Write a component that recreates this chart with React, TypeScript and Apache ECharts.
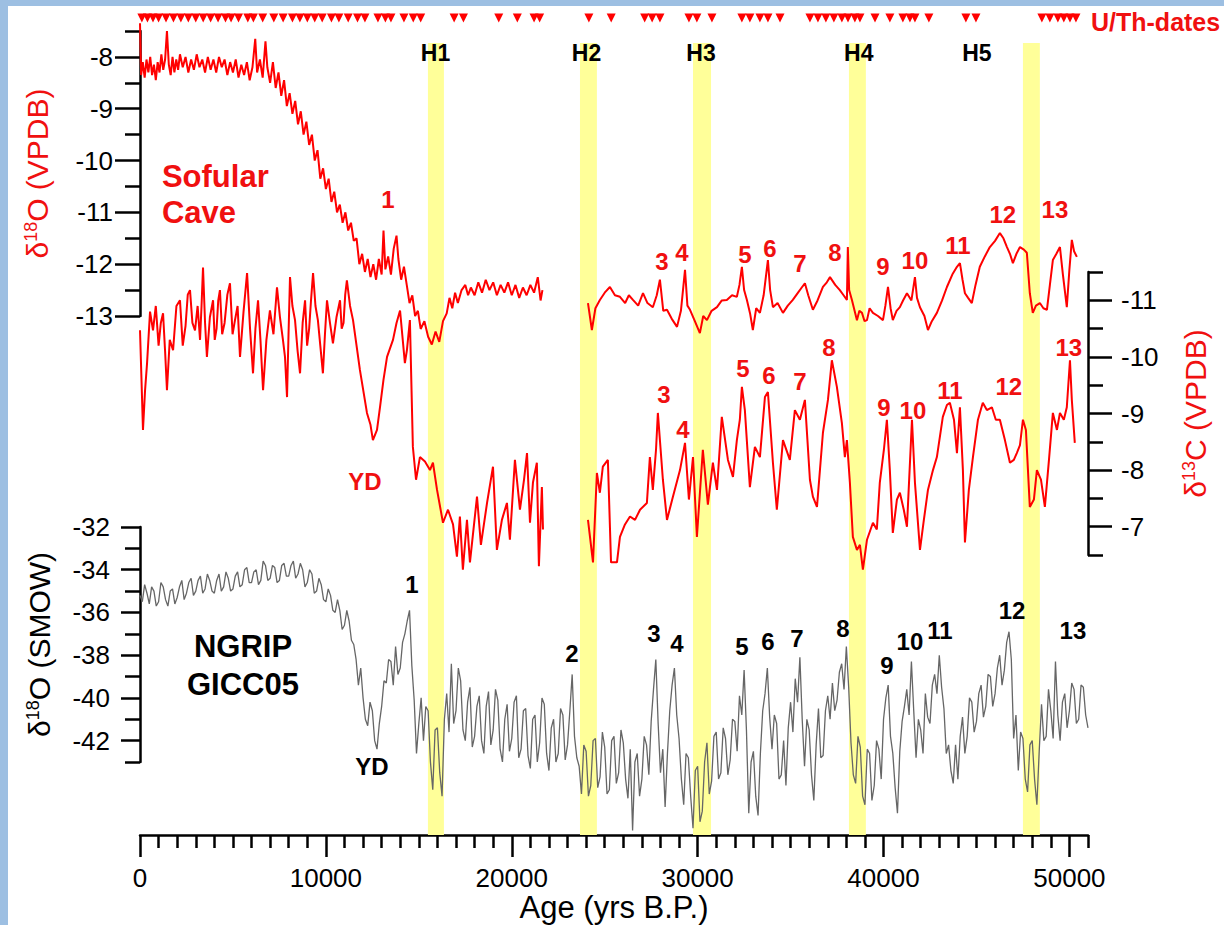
import React, { useEffect, useRef } from 'react';
import * as echarts from 'echarts';

const FONT = '"Liberation Sans", Arial, Helvetica, sans-serif';
const RED = '#ff0000';
const TXT_RED = '#f01010';
const GREY = '#666666';
const BLUE = '#9dbfe2';
const BAND = '#ffff99';

// ---------- axes / ticks ----------
const ageMin = 0;
const ageMax = 51000;
const ageMajorTicks = [0, 10000, 20000, 30000, 40000, 50000];
const ageMinorTicks = Array.from({ length: 51 }, (_, i) => (i + 1) * 1000).filter((v) => v % 10000 !== 0);

const o18Min = -13;
const o18Max = -7.5;
const o18MajorTicks = [-13, -12, -11, -10, -9, -8];
const o18MinorTicks = [-12.5, -11.5, -10.5, -9.5, -8.5, -7.5];

const c13Min = -11.5;
const c13Max = -6.5;
const c13MajorTicks = [-11, -10, -9, -8, -7];
const c13MinorTicks = [-11.5, -10.5, -9.5, -8.5, -7.5, -6.5];

const ngMin = -43;
const ngMax = -32;
const ngMajorTicks = [-42, -40, -38, -36, -34, -32];
const ngMinorTicks = [-43, -41, -39, -37, -35, -33];

// ---------- Heinrich bands & labels ----------
const heinrichBands: [number, number][] = [
  [15490, 16350], [23670, 24580], [29750, 30720], [38140, 39050], [47500, 48410],
];
const heinrichLabels: [string, number][] = [
  ['H1', 15900], ['H2', 24020], ['H3', 30180], ['H4', 38670], ['H5', 45020],
];

// ---------- U/Th dates (yrs B.P.) ----------
const uthDates = [
  100, 400, 700, 1000, 1400, 1800, 2200, 2600, 3000, 3400, 3800, 4200, 4600, 4900,
  5300, 5800, 6100, 6600, 7200, 7700, 8200, 8600,
  9000, 9400, 9800, 10300, 10700, 11200, 11700, 12100,
  12800, 13200, 13500, 14200, 14700, 15100, 16900, 17400,
  19300, 20300, 21200, 21500, 24150, 25350, 27150, 27550, 27970,
  29530, 29960, 30770, 32380, 32810, 33350, 33780, 34430,
  36040, 36470, 36900, 37330, 37760, 38090, 38460, 38730,
  39540, 40340, 41040, 41420, 41690, 42440, 44430, 44970,
  48520, 48950, 49380, 49700, 50030, 50350,
];

// ---------- Sofular δ18O (VPDB) ----------
const sofularO18: [number, number | null][] = [
  [0, -7.35], [60, -8.35], [150, -8.1], [250, -8.4], [350, -8.05], [450, -8.3], [550, -8.0], [650, -8.35],
  [750, -8.15], [850, -8.45], [950, -8.1], [1050, -8.3], [1150, -7.95], [1250, -8.25], [1350, -8.05], [1450, -7.5],
  [1550, -8.15], [1650, -8.35], [1750, -8.0], [1850, -8.3], [1950, -8.05], [2050, -8.25], [2150, -7.95], [2300, -8.2],
  [2450, -8.0], [2600, -8.3], [2750, -8.05], [2900, -8.25], [3050, -7.95], [3200, -8.2], [3350, -8.05], [3500, -8.3],
  [3650, -8.0], [3800, -8.25], [3950, -8.05], [4100, -8.3], [4250, -8.0], [4400, -8.2], [4550, -8.05], [4700, -8.35],
  [4850, -8.1], [5000, -8.3], [5150, -8.05], [5300, -8.4], [5450, -8.15], [5600, -8.35], [5750, -8.1], [5900, -8.45],
  [6050, -8.2], [6200, -7.65], [6300, -8.3], [6450, -8.05], [6600, -8.4], [6750, -7.7], [6850, -8.2], [7000, -8.5],
  [7150, -8.1], [7300, -8.6], [7450, -8.3], [7600, -8.75], [7750, -8.45], [7900, -8.95], [8050, -8.7], [8200, -9.1],
  [8350, -8.85], [8500, -9.3], [8650, -9.05], [8800, -9.5], [8950, -9.25], [9100, -9.7], [9250, -9.5], [9400, -10.0],
  [9550, -9.8], [9700, -10.35], [9850, -10.15], [10000, -10.55], [10150, -10.35], [10300, -10.8], [10450, -10.6], [10600, -11.0],
  [10750, -10.85], [10900, -11.2], [11050, -11.0], [11200, -11.35], [11350, -11.2], [11500, -11.55], [11650, -11.5], [11800, -12.0],
  [11950, -11.8], [12100, -12.15], [12250, -11.9], [12400, -12.25], [12550, -12.0], [12700, -12.3], [12850, -11.9], [13000, -12.2],
  [13100, -11.35], [13200, -12.1], [13350, -11.85], [13500, -12.2], [13650, -11.7], [13800, -11.45], [13900, -11.9], [14050, -12.3],
  [14200, -12.05], [14350, -12.4], [14500, -12.75], [14650, -12.6], [14800, -13.0], [14950, -12.9], [15100, -13.25], [15300, -13.1],
  [15500, -13.4], [15700, -13.55], [15900, -13.3], [16100, -13.5], [16300, -13.1], [16500, -12.95], [16650, -12.65], [16800, -12.85],
  [16950, -12.55], [17100, -12.75], [17300, -12.5], [17500, -12.4], [17650, -12.6], [17800, -12.45], [18000, -12.6], [18200, -12.35],
  [18400, -12.55], [18600, -12.3], [18800, -12.5], [19000, -12.35], [19200, -12.6], [19400, -12.4], [19600, -12.55], [19800, -12.35],
  [20000, -12.6], [20200, -12.4], [20400, -12.65], [20600, -12.45], [20800, -12.6], [21000, -12.4], [21200, -12.55], [21400, -12.25],
  [21550, -12.7], [21650, -12.5], [22500, null],
  [24100, -12.75], [24310, -13.27], [24500, -12.85], [24740, -12.69], [25000, -12.55], [25280, -12.44], [25550, -12.6], [25820, -12.63],
  [26100, -12.75], [26300, -12.6], [26520, -12.69], [26800, -12.8], [27060, -12.56], [27300, -12.75], [27590, -12.83], [27800, -12.6],
  [27970, -12.3], [28150, -12.9], [28350, -12.88], [28600, -13.05], [28890, -13.21], [29100, -12.9], [29320, -12.11], [29450, -12.8],
  [29590, -12.88], [29850, -13.1], [30120, -13.33], [30300, -13.0], [30500, -13.08], [30750, -12.9], [31040, -12.83], [31300, -12.7],
  [31570, -12.69], [31850, -12.6], [32110, -12.63], [32250, -12.4], [32380, -12.05], [32500, -12.5], [32650, -12.69], [32820, -12.95],
  [32970, -13.27], [33150, -12.85], [33350, -12.94], [33550, -12.6], [33780, -11.92], [33900, -12.5], [34050, -12.83], [34300, -12.75],
  [34590, -12.94], [34850, -12.8], [35120, -12.69], [35400, -12.55], [35600, -12.45], [35770, -12.37], [35950, -12.6], [36200, -12.88],
  [36450, -12.7], [36740, -12.44], [36950, -12.35], [37120, -12.25], [37400, -12.4], [37650, -12.5], [37850, -12.6], [38030, -12.69],
  [38080, -11.67], [38150, -12.5], [38300, -12.69], [38570, -13.08], [38700, -12.9], [38840, -12.94], [38980, -13.1], [39110, -13.08],
  [39250, -12.85], [39430, -12.94], [39700, -13.0], [39970, -13.08], [40100, -12.8], [40240, -12.44], [40380, -12.85], [40500, -13.08],
  [40700, -12.9], [40880, -12.83], [41050, -12.7], [41260, -12.56], [41500, -12.7], [41690, -12.25], [41800, -12.65], [41960, -12.83],
  [42200, -13.0], [42390, -13.27], [42600, -13.1], [42870, -12.94], [43150, -12.7], [43410, -12.44], [43700, -12.2], [43950, -12.05],
  [44110, -11.98], [44250, -12.3], [44380, -12.56], [44550, -12.65], [44750, -12.75], [44950, -12.4], [45180, -12.05], [45450, -11.85],
  [45720, -11.67], [46000, -11.55], [46260, -11.4], [46450, -11.5], [46640, -11.67], [46800, -11.8], [46960, -11.98], [47150, -11.8],
  [47340, -11.67], [47550, -11.72], [47710, -11.78], [47870, -12.56], [48030, -12.94], [48200, -12.8], [48410, -12.75], [48600, -12.85],
  [48790, -12.88], [48950, -12.4], [49110, -11.92], [49300, -11.8], [49490, -11.67], [49650, -12.2], [49860, -12.83], [50000, -12.1],
  [50130, -11.53], [50250, -11.75], [50400, -11.86],
];

// ---------- Sofular δ13C (VPDB) ----------
const sofularC13: [number, number | null][] = [
  [0, -10.47], [80, -9.6], [160, -8.71], [270, -9.4], [380, -9.89], [540, -10.8], [700, -10.47], [850, -10.9],
  [1000, -10.2], [1120, -10.6], [1240, -10.77], [1350, -10.1], [1450, -9.41], [1600, -10.3], [1780, -10.12], [1960, -10.9],
  [2150, -11.0], [2300, -10.2], [2450, -10.55], [2570, -11.1], [2690, -11.18], [2820, -10.6], [2960, -10.47], [3100, -10.9],
  [3230, -10.3], [3310, -10.9], [3390, -11.58], [3500, -10.6], [3600, -10.0], [3760, -10.7], [3930, -11.0], [4020, -10.3],
  [4120, -10.5], [4210, -11.0], [4300, -11.18], [4420, -10.4], [4550, -10.6], [4700, -11.1], [4840, -11.3], [4980, -10.4],
  [5110, -10.65], [5250, -10.9], [5380, -10.0], [5570, -10.8], [5760, -11.48], [5920, -10.5], [6080, -9.71], [6210, -10.5],
  [6350, -11.0], [6480, -10.3], [6620, -9.41], [6800, -10.3], [6990, -10.82], [7180, -10.4], [7370, -11.23], [7530, -10.7],
  [7690, -10.3], [7800, -10.0], [7910, -9.29], [7990, -10.4], [8070, -11.41], [8200, -10.9], [8340, -10.65], [8480, -10.1],
  [8610, -9.71], [8750, -10.6], [8880, -11.0], [8990, -10.2], [9100, -10.5], [9200, -11.0], [9310, -11.48], [9440, -10.9],
  [9570, -10.65], [9700, -10.2], [9840, -9.71], [9950, -10.4], [10060, -11.0], [10220, -10.6], [10380, -10.24], [10570, -10.7],
  [10760, -11.0], [10850, -10.5], [10950, -10.6], [11040, -11.1], [11130, -11.35], [11300, -10.9], [11460, -10.65], [11650, -10.2],
  [11830, -9.77], [12210, -9.01], [12400, -8.8], [12530, -8.53],
  [12750, -8.71], [12910, -9.11], [13100, -9.6], [13290, -10.0], [13610, -10.3], [13800, -10.6], [13990, -10.82], [14250, -9.89],
  [14360, -10.12], [14520, -10.65], [14680, -8.41], [14850, -7.83], [15060, -8.23], [15330, -8.15], [15600, -8.0], [15760, -8.13],
  [15980, -7.65], [16300, -7.07], [16570, -7.3], [16840, -7.04], [17050, -6.47], [17210, -7.18], [17370, -6.24], [17590, -7.12],
  [17750, -6.37], [18130, -7.53], [18340, -6.68], [18670, -7.42], [18990, -8.06], [19200, -6.59], [19470, -7.12], [19740, -7.42],
  [19900, -6.77], [20170, -8.18], [20440, -7.3], [20660, -7.83], [20820, -8.3], [20980, -7.07], [21140, -7.78], [21350, -8.13],
  [21460, -6.3], [21620, -7.7], [21680, -6.95], [22500, null],
  [24100, -7.12], [24370, -6.37], [24580, -7.95], [24740, -7.6], [24900, -8.06], [25170, -8.18], [25340, -6.37], [25660, -6.37],
  [25820, -6.82], [26090, -7.04], [26360, -7.18], [26630, -7.12], [26900, -7.3], [27270, -7.42], [27430, -8.23], [27590, -7.65],
  [27760, -8.36], [27860, -9.01], [28130, -7.83], [28350, -7.12], [28670, -7.53], [29050, -8.0], [29320, -8.48], [29530, -7.48],
  [29750, -8.23], [29960, -6.82], [30280, -8.36], [30550, -7.39], [30820, -8.13], [31040, -7.65], [31300, -8.94], [31630, -8.18],
  [31900, -7.88], [32110, -8.53], [32270, -8.89], [32380, -9.47], [32540, -9.06], [32810, -7.7], [33080, -8.41], [33350, -8.23],
  [33620, -9.29], [33780, -9.38], [34050, -8.13], [34260, -7.3], [34590, -8.53], [34960, -8.18], [35230, -9.06], [35500, -8.89],
  [35770, -9.24], [36040, -7.83], [36200, -7.53], [36420, -7.35], [36740, -8.66], [37010, -9.24], [37220, -9.94], [37490, -9.47],
  [37760, -8.83], [37920, -8.23], [38030, -8.53], [38190, -7.78], [38350, -6.82], [38570, -6.59], [38730, -6.68], [38890, -6.24],
  [39110, -6.77], [39430, -7.07], [39640, -6.95], [39800, -7.78], [40020, -8.36], [40180, -8.89], [40340, -8.0], [40500, -6.89],
  [40720, -7.48], [40880, -7.6], [41090, -7.3], [41260, -7.0], [41530, -8.89], [41690, -7.78], [41960, -6.59], [42170, -7.12],
  [42390, -7.65], [42660, -8.0], [42870, -8.23], [43190, -8.94], [43410, -9.15], [43570, -9.19], [43790, -8.89], [43950, -8.3],
  [44110, -9.11], [44270, -8.0], [44380, -6.72], [44590, -7.65], [44810, -8.23], [45080, -8.89], [45340, -9.19], [45560, -9.06],
  [45830, -9.11], [46040, -8.89], [46260, -8.89], [46530, -8.53], [46800, -8.13], [47010, -8.18], [47170, -8.3], [47340, -8.44],
  [47500, -8.89], [47660, -8.71], [47870, -7.35], [48090, -7.48], [48250, -8.0], [48470, -7.83], [48680, -7.35], [48900, -8.18],
  [49110, -9.01], [49330, -8.71], [49490, -9.01], [49700, -8.89], [49860, -9.11], [50030, -9.94], [50130, -9.24], [50290, -8.48],
];

// ---------- NGRIP δ18O (SMOW), GICC05, one value every 125 yr from 0 ----------
const ngripStep = 125;
const ngripValues = [
  -35.2, -35.5, -34.7, -35.1, -35.6, -34.8, -35.0, -35.7, -35.5, -34.6, -34.8, -35.4, -35.7, -35.0, -34.9, -35.6,
  -35.3, -34.8, -34.5, -35.4, -35.1, -34.6, -34.4, -35.2, -35.0, -34.5, -34.3, -35.1, -34.9, -34.2, -34.5, -35.0,
  -35.1, -34.5, -34.2, -35.0, -34.8, -34.1, -34.4, -35.0, -34.9, -34.3, -34.1, -34.8, -34.7, -34.0, -33.9, -34.6,
  -34.6, -34.1, -34.0, -34.7, -34.5, -33.6, -33.8, -34.5, -34.4, -33.8, -33.9, -34.6, -34.5, -33.8, -33.7, -34.3,
  -34.3, -33.8, -33.6, -34.4, -34.2, -33.7, -34.0, -34.8, -34.6, -34.0, -34.2, -35.1, -35.0, -34.4, -34.7, -35.4,
  -35.5, -34.9, -35.2, -35.9, -36.0, -35.4, -35.9, -36.8, -36.6, -35.9, -36.4, -37.3, -37.5, -38.2, -39.4, -38.6,
  -40.0, -41.0, -41.3, -40.2, -40.6, -42.0, -42.4, -41.2, -40.4, -39.2, -39.3, -38.2, -38.3, -39.4, -37.6, -38.9,
  -38.6, -37.4, -37.0, -36.4, -35.9, -38.5, -40.1, -42.6, -41.2, -40.0, -42.0, -40.4, -40.6, -43.0, -44.3, -41.5,
  -41.4, -43.5, -44.6, -41.0, -39.8, -41.6, -38.4, -41.2, -40.6, -38.6, -39.2, -41.5, -42.0, -40.2, -39.5, -42.3,
  -41.8, -40.4, -39.9, -42.0, -42.6, -40.4, -39.7, -42.2, -41.5, -39.6, -40.1, -42.4, -43.0, -41.0, -40.3, -42.5,
  -41.9, -40.2, -39.9, -42.8, -42.4, -40.6, -40.5, -42.7, -43.3, -41.0, -40.8, -43.0, -42.1, -40.0, -40.3, -42.6,
  -43.4, -41.4, -41.0, -43.0, -42.6, -40.5, -40.8, -42.9, -42.2, -40.6, -38.9, -41.8, -42.8, -43.2, -44.5, -42.2,
  -42.5, -44.6, -44.1, -42.0, -41.9, -44.2, -43.7, -41.6, -42.3, -44.5, -44.3, -42.0, -41.8, -44.0, -43.5, -41.5,
  -42.1, -43.8, -44.7, -42.4, -46.2, -43.0, -42.6, -44.6, -43.8, -41.8, -42.2, -43.6, -41.1, -39.6, -38.2, -41.2,
  -43.5, -42.4, -45.1, -42.6, -40.6, -39.4, -38.6, -40.8, -41.9, -43.8, -45.0, -42.6, -42.8, -44.6, -46.1, -43.4,
  -43.2, -45.8, -45.3, -43.0, -42.1, -44.5, -43.9, -41.8, -41.6, -43.8, -43.5, -41.4, -41.9, -43.6, -42.9, -41.0,
  -41.1, -42.5, -39.9, -40.8, -38.7, -41.5, -45.4, -43.0, -42.5, -44.6, -45.5, -42.6, -40.6, -39.8, -38.6, -40.9,
  -42.4, -40.8, -41.2, -43.8, -43.6, -42.0, -44.1, -41.4, -40.2, -41.6, -39.1, -40.2, -38.1, -41.0, -43.2, -41.0,
  -41.5, -43.6, -44.8, -42.2, -40.5, -42.8, -42.7, -40.6, -39.9, -41.0, -39.3, -40.6, -40.1, -38.8, -38.4, -39.6,
  -37.6, -39.5, -42.1, -43.6, -44.0, -41.8, -42.3, -44.6, -45.0, -42.4, -42.6, -44.8, -44.1, -42.0, -42.4, -43.8,
  -41.0, -40.0, -39.4, -41.8, -42.6, -44.2, -45.4, -42.5, -41.1, -40.4, -39.6, -40.8, -38.3, -40.6, -42.8, -41.0,
  -41.5, -42.6, -39.8, -40.9, -41.2, -39.4, -38.9, -39.8, -38.0, -39.5, -40.5, -42.6, -42.2, -43.4, -44.0, -42.2,
  -43.8, -41.8, -40.9, -42.6, -41.8, -40.0, -40.2, -41.6, -41.1, -39.8, -39.4, -40.9, -40.4, -38.9, -39.0, -40.4,
  -39.8, -38.6, -38.0, -39.4, -38.7, -37.4, -36.9, -38.2, -41.9, -40.8, -43.4, -41.6, -41.9, -43.8, -44.4, -42.2,
  -42.0, -43.8, -45.0, -42.5, -40.3, -42.0, -41.8, -39.6, -40.6, -41.9, -38.3, -40.8, -42.0, -40.2, -39.8, -41.4,
  -40.6, -39.3, -39.6, -41.2, -41.0, -39.4, -39.5, -40.8, -41.4,
];

// ---------- in-plot annotations [age, value on its own axis, text] ----------
const o18Labels: [number, number, string][] = [
  [13340, -10.76, '1'], [28080, -11.94, '3'], [29150, -11.78, '4'], [32540, -11.82, '5'],
  [33890, -11.69, '6'], [35500, -11.98, '7'], [37380, -11.78, '8'], [39970, -12.05, '9'],
  [41690, -11.92, '10'], [44000, -11.63, '11'], [46420, -11.05, '12'], [49220, -10.95, '13'],
];
const o18Title: [number, number, string][] = [[1180, -10.66, 'Sofular\nCave']];
const c13Labels: [number, number, string][] = [
  [28190, -9.33, '3'], [29210, -8.71, '4'], [32430, -9.8, '5'], [33830, -9.68, '6'],
  [35500, -9.56, '7'], [37060, -10.17, '8'], [40020, -9.11, '9'], [41580, -9.06, '10'],
  [43570, -9.41, '11'], [46740, -9.47, '12'], [49970, -10.17, '13'], [12100, -7.79, 'YD'],
];
const ngLabels: [number, number, string][] = [
  [14630, -34.68, '1'], [23240, -37.91, '2'], [27650, -36.99, '3'], [28890, -37.45, '4'],
  [32380, -37.59, '5'], [33780, -37.36, '6'], [35340, -37.22, '7'], [37810, -36.76, '8'],
  [40180, -38.47, '9'], [41420, -37.36, '10'], [43030, -36.85, '11'], [46910, -35.93, '12'],
  [50190, -36.85, '13'], [12480, -43.22, 'YD'],
];
const ngTitle: [number, number, string][] = [[5540, -38.47, 'NGRIP\nGICC05']];

// ---------- option building ----------
const GRID_LEFT = 140;
const GRID_W = 948;

function labelSeries(xi: number, yi: number, items: [number, number, string][], color: string, size: number, extra: any = {}) {
  return {
    type: 'scatter',
    xAxisIndex: xi,
    yAxisIndex: yi,
    symbolSize: 1,
    itemStyle: { color: 'rgba(0,0,0,0)', opacity: 1 },
    silent: true,
    clip: false,
    z: 20,
    data: items.map(([a, v, t]) => ({ value: [a, v], name: t })),
    label: {
      show: true,
      position: 'inside',
      formatter: '{b}',
      color,
      opacity: 1,
      textBorderWidth: 0,
      fontSize: size,
      fontWeight: 'bold',
      fontFamily: FONT,
      ...extra,
    },
  };
}

function hiddenX(gridIndex: number) {
  return { type: 'value', gridIndex, min: ageMin, max: ageMax, show: false, splitLine: { show: false } };
}

function richName(color: string, size: number) {
  return {
    color,
    fontFamily: FONT,
    fontSize: size,
    rich: {
      n: { fontSize: size, color, fontFamily: FONT },
      s: { fontSize: Math.round(size * 0.6), color, fontFamily: FONT, verticalAlign: 'top' },
    },
  };
}

const axisLineStyle = { color: '#000', width: 2.5 };
const tickLabelStyle = { color: '#000', fontSize: 26, fontFamily: FONT };

function majorY(gridIndex: number, position: string, min: number, max: number, ticks: number[], tickLen: number, margin: number, extra: any = {}) {
  return {
    type: 'value', gridIndex, position, min, max,
    axisLine: { show: true, onZero: false, lineStyle: axisLineStyle },
    axisTick: { show: true, customValues: ticks, length: tickLen, lineStyle: axisLineStyle },
    axisLabel: { show: true, customValues: ticks, margin, ...tickLabelStyle },
    splitLine: { show: false },
    ...extra,
  };
}
function minorY(gridIndex: number, position: string, min: number, max: number, ticks: number[], tickLen: number, extra: any = {}) {
  return {
    type: 'value', gridIndex, position, min, max,
    axisLine: { show: false, onZero: false },
    axisTick: { show: true, customValues: ticks, length: tickLen, lineStyle: axisLineStyle },
    axisLabel: { show: false },
    splitLine: { show: false },
    ...extra,
  };
}

const option: any = {
  animation: false,
  backgroundColor: 'transparent',
  textStyle: { fontFamily: FONT },
  grid: [
    { left: GRID_LEFT, top: 31, width: GRID_W, height: 285, outerBoundsMode: 'none' },
    { left: GRID_LEFT, top: 272, width: GRID_W, height: 283, outerBoundsMode: 'none' },
    { left: GRID_LEFT, top: 527, width: GRID_W, height: 235, outerBoundsMode: 'none' },
    { left: GRID_LEFT, top: 43, width: GRID_W, height: 792, outerBoundsMode: 'none' },
    { left: GRID_LEFT, top: 13, width: GRID_W, height: 10, outerBoundsMode: 'none' },
  ],
  xAxis: [
    hiddenX(0),
    hiddenX(1),
    {
      type: 'value', gridIndex: 2, position: 'bottom', offset: 73, min: ageMin, max: ageMax,
      axisLine: { show: true, onZero: false, lineStyle: axisLineStyle },
      axisTick: { show: true, customValues: ageMajorTicks, length: 22, lineStyle: axisLineStyle },
      axisLabel: { show: true, customValues: ageMajorTicks, margin: 30, formatter: (v: number) => String(v), ...tickLabelStyle },
      splitLine: { show: false },
      name: 'Age (yrs B.P.)',
      nameLocation: 'middle',
      nameGap: 57,
      nameTextStyle: { color: '#000', fontSize: 31, fontFamily: FONT },
    },
    {
      type: 'value', gridIndex: 2, position: 'bottom', offset: 73, min: ageMin, max: ageMax,
      axisLine: { show: false, onZero: false },
      axisTick: { show: true, customValues: ageMinorTicks, length: 13, lineStyle: axisLineStyle },
      axisLabel: { show: false },
      splitLine: { show: false },
    },
    hiddenX(3),
    hiddenX(4),
  ],
  yAxis: [
    majorY(0, 'left', o18Min, o18Max, o18MajorTicks, 25, 27, {
      name: '{n|δ}{s|18}{n|O (VPDB)}', nameLocation: 'middle', nameRotate: 90, nameGap: 88,
      nameTextStyle: richName(TXT_RED, 30),
    }),
    minorY(0, 'left', o18Min, o18Max, o18MinorTicks, 15),
    majorY(1, 'right', c13Min, c13Max, c13MajorTicks, 24, 33, {
      inverse: true,
      name: '{n|δ}{s|13}{n|C (VPDB)}', nameLocation: 'middle', nameRotate: 90, nameGap: 92,
      nameTextStyle: richName(TXT_RED, 30),
    }),
    minorY(1, 'right', c13Min, c13Max, c13MinorTicks, 15, { inverse: true }),
    majorY(2, 'left', ngMin, ngMax, ngMajorTicks, 19, 30, {
      name: '{n|δ}{s|18}{n|O (SMOW)}', nameLocation: 'middle', nameRotate: 90, nameGap: 86,
      nameTextStyle: richName('#000', 30),
    }),
    minorY(2, 'left', ngMin, ngMax, ngMinorTicks, 15),
    { type: 'value', gridIndex: 3, min: 0, max: 1, show: false, splitLine: { show: false } },
    { type: 'value', gridIndex: 4, min: 0, max: 1, show: false, splitLine: { show: false } },
  ],
  graphic: [
    {
      type: 'text', left: 1091, top: 9, z: 30,
      style: { text: 'U/Th-dates', fill: TXT_RED, font: `bold 25px ${FONT}` },
    },
  ],
  series: [
    {
      name: 'bands', type: 'line', xAxisIndex: 4, yAxisIndex: 6, data: [], z: 1, silent: true,
      markArea: {
        silent: true,
        itemStyle: { color: BAND, opacity: 1 },
        data: heinrichBands.map(([a, b]) => [{ xAxis: a }, { xAxis: b }]),
      },
    },
    {
      name: 'Sofular δ18O', type: 'line', xAxisIndex: 0, yAxisIndex: 0, z: 5, clip: false,
      showSymbol: false, connectNulls: false,
      lineStyle: { color: RED, width: 2 },
      data: sofularO18,
    },
    {
      name: 'Sofular δ13C', type: 'line', xAxisIndex: 1, yAxisIndex: 2, z: 5, clip: false,
      showSymbol: false, connectNulls: false,
      lineStyle: { color: RED, width: 2 },
      data: sofularC13,
    },
    {
      name: 'NGRIP δ18O', type: 'line', xAxisIndex: 2, yAxisIndex: 4, z: 4, clip: false,
      showSymbol: false,
      lineStyle: { color: GREY, width: 1.3 },
      data: ngripValues.map((v, i) => [i * ngripStep, v]),
    },
    {
      name: 'U/Th-dates', type: 'scatter', xAxisIndex: 5, yAxisIndex: 7, z: 6, silent: true, clip: false,
      symbol: 'triangle', symbolRotate: 180, symbolSize: [9, 9],
      itemStyle: { color: RED, opacity: 1 },
      data: uthDates.map((a) => [a, 0.5]),
    },
    labelSeries(4, 6, heinrichLabels.map(([t, a]) => [a, 0.987, t] as [number, number, string]), '#000', 23),
    labelSeries(0, 0, o18Labels, TXT_RED, 24),
    labelSeries(0, 0, o18Title, TXT_RED, 31, { align: 'left', lineHeight: 36 }),
    labelSeries(1, 2, c13Labels, TXT_RED, 24),
    labelSeries(2, 4, ngLabels, '#000', 24),
    labelSeries(2, 4, ngTitle, '#000', 31, { lineHeight: 38 }),
  ],
};

export default function App() {
  const ref = useRef<HTMLDivElement>(null);
  useEffect(() => {
    if (!ref.current) return;
    const chart = echarts.init(ref.current, null, { renderer: 'svg' });
    chart.setOption(option);
    return () => chart.dispose();
  }, []);
  return (
    <div style={{ position: 'fixed', left: 0, top: 0, width: 1224, height: 925, background: '#fff', overflow: 'hidden' }}>
      <div style={{ position: 'absolute', left: 0, top: 0, width: 8, height: 925, background: BLUE }} />
      <div style={{ position: 'absolute', left: 0, top: 0, width: 1224, height: 6, background: BLUE }} />
      <div ref={ref} style={{ position: 'absolute', left: 0, top: 0, width: 1224, height: 925 }} />
    </div>
  );
}
